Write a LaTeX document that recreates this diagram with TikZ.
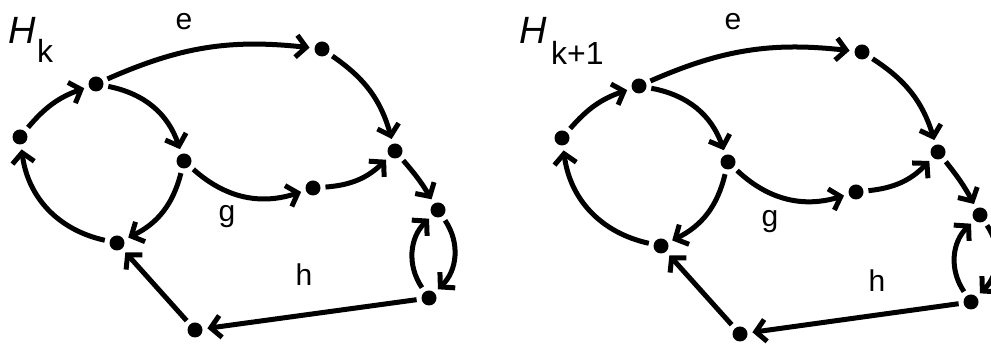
\documentclass[tikz,border=0pt]{standalone}
\usepackage{fontspec}
\setmainfont{Liberation Sans}
\usetikzlibrary{arrows.meta}
\begin{document}
\begin{tikzpicture}[x=1pt,y=1pt,
  dot/.style={circle,fill=black,inner sep=0pt,minimum size=15pt,outer sep=5pt},
  arr/.style={line width=5pt,-{Straight Barb[length=10pt,width=22pt]}},
  lbl/.style={font=\fontsize{30}{30}\selectfont,inner sep=0pt,anchor=base},
  bigH/.style={font=\fontsize{38}{38}\selectfont\itshape,inner sep=0pt,anchor=base west},
  sub/.style={font=\fontsize{32}{32}\selectfont,inner sep=0pt,anchor=base west}]
\path[use as bounding box] (0,0) rectangle (991,344);
\clip (0,0) rectangle (991,344);
% ---------- left graph H_k ----------
\node[dot] (a1) at (20,207) {};
\node[dot] (b1) at (96,260) {};
\node[dot] (c1) at (322,295) {};
\node[dot] (d1) at (184,183) {};
\node[dot] (e1) at (313,156) {};
\node[dot] (f1) at (395,193) {};
\node[dot] (g1) at (438,134) {};
\node[dot] (i1) at (429,46) {};
\node[dot] (j1) at (117,101) {};
\node[dot] (k1) at (195,14) {};
\node[bigH] (H1) at (8,300) {H};
\node[sub] (s1) at (37,281) {k};
\node[lbl] (le1) at (184,314) {e};
\node[lbl] (lg1) at (227,122) {g};
\node[lbl] (lh1) at (304,58) {h};
\draw[arr] (a1) to[bend left=15] (b1);
\draw[arr] (b1) to[bend left=15] (c1);
\draw[arr] (b1) to[bend left=30] (d1);
\draw[arr] (c1) to[bend left=20] (f1);
\draw[arr] (d1) to[bend right=30] (e1);
\draw[arr] (e1) to[bend right=20] (f1);
\draw[arr] (f1) to[bend left=5] (g1);
\draw[arr] (d1) to[bend left=25] (j1);
\draw[arr] (j1) to[bend left=35] (a1);
\draw[arr] (g1) to[bend left=40] (i1);
\draw[arr] (i1) to[bend left=40] (g1);
\draw[arr] (i1) -- (k1);
\draw[arr] (k1) -- (j1);
% ---------- right graph H_{k+1} ----------
\node[dot] (a2) at (562,206) {};
\node[dot] (b2) at (639,258) {};
\node[dot] (c2) at (862,292) {};
\node[dot] (d2) at (728,182) {};
\node[dot] (e2) at (856,152) {};
\node[dot] (f2) at (938,192) {};
\node[dot] (g2) at (980,129) {};
\node[dot] (i2) at (971,42) {};
\node[dot] (j2) at (661,98) {};
\node[dot] (k2) at (740,10) {};
\node[bigH] (H2) at (519,300) {H};
\node[sub] (s2) at (551,279) {k+1};
\node[lbl] (le2) at (733,314) {e};
\node[lbl] (lg2) at (770,117) {g};
\node[lbl] (lh2) at (877,52) {h};
\draw[arr] (a2) to[bend left=15] (b2);
\draw[arr] (b2) to[bend left=15] (c2);
\draw[arr] (b2) to[bend left=30] (d2);
\draw[arr] (c2) to[bend left=20] (f2);
\draw[arr] (d2) to[bend right=30] (e2);
\draw[arr] (e2) to[bend right=20] (f2);
\draw[arr] (f2) to[bend left=5] (g2);
\draw[arr] (d2) to[bend left=25] (j2);
\draw[arr] (j2) to[bend left=35] (a2);
\draw[arr] (g2) to[bend left=40] (i2);
\draw[arr] (i2) to[bend left=40] (g2);
\draw[arr] (i2) -- (k2);
\draw[arr] (k2) -- (j2);
\end{tikzpicture}
\end{document}
